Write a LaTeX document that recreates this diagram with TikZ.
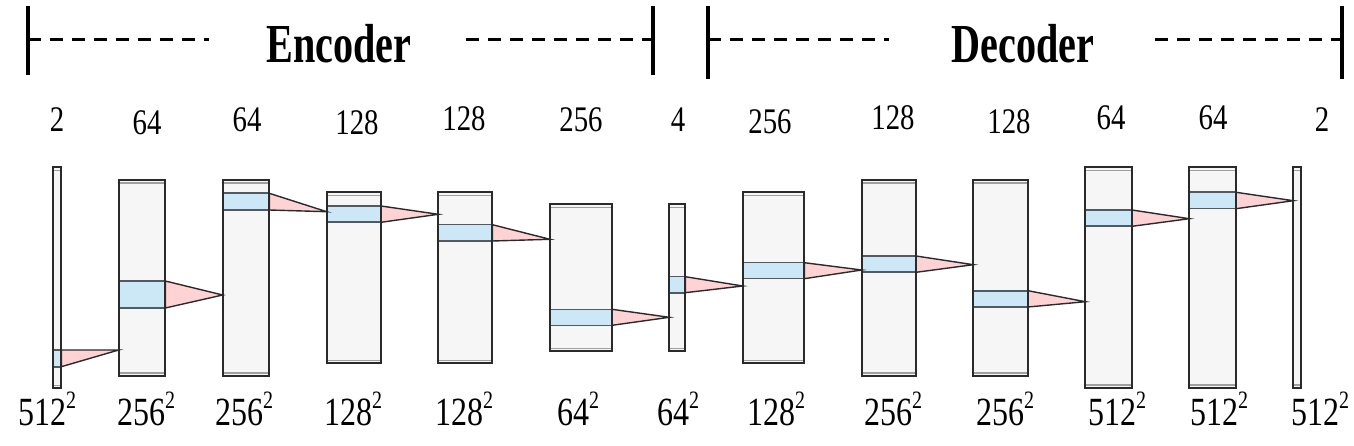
\documentclass[tikz,border=0pt]{standalone}
\usepackage{fontspec}
\setmainfont{Liberation Serif}
\usetikzlibrary{fit}
\definecolor{slabfill}{HTML}{F6F6F6}
\definecolor{edgecol}{HTML}{2A2A2A}
\definecolor{bandfill}{HTML}{CCE8F7}
\definecolor{bandedge}{HTML}{505A60}
\definecolor{conefill}{HTML}{FFD3D4}
\newcommand\topnum[1]{\fontsize{36}{38}\selectfont\scalebox{0.8}[1]{#1}}
\newcommand\botnum[1]{\fontsize{40}{42}\selectfont\scalebox{0.8}[1]{#1\raisebox{0.42em}{\fontsize{25}{25}\selectfont 2}}}
\newcommand\hdr[1]{\fontsize{55}{58}\selectfont\bfseries\scalebox{0.73}[1]{#1}}
\newcommand\mkslab[5]{%
  \node[slab, fit={(#2,#3)(#4,#5)}] (#1) {};%
  \draw[rim] ([yshift=-3pt]#1.north west) -- ([yshift=-3pt]#1.north east);%
  \draw[rim] ([yshift=3pt]#1.south west) -- ([yshift=3pt]#1.south east);}
\newcommand\mkband[4]{%
  \node[band, fit={(#2.west |- 0,#3)(#2.east |- 0,#4)}] (#1) {};}
\newcommand\mkcone[4]{%
  \coordinate (#1) at (#3.west |- 0,#4);%
  \draw[cone] (#2.north east) -- (#1) -- (#2.south east) -- cycle;}
\newcommand\reslab[1]{\draw[slabline] (#1.north west) rectangle (#1.south east);}
\begin{document}
\begin{tikzpicture}[x=1pt,y=-1pt,
  slab/.style={fill=slabfill, draw=edgecol, line width=1.8pt, inner sep=0pt, outer sep=0pt},
  rim/.style={draw=gray!75, line width=1.3pt},
  band/.style={fill=bandfill, draw=bandedge, line width=1.6pt, inner sep=0pt, outer sep=0pt},
  cone/.style={fill=conefill, draw=edgecol, line width=1.4pt, line join=miter},
  slabline/.style={draw=edgecol, line width=1.8pt},
  hbar/.style={line width=4pt, black},
  hdash/.style={line width=3pt, black, dash pattern=on 13pt off 9pt},
  lbl/.style={inner sep=0pt, outer sep=0pt, anchor=center}]
\useasboundingbox (0,0) rectangle (1354,446);

% header
\coordinate (e1t) at (27.5,6);   \coordinate (e1b) at (27.5,75);
\coordinate (e2t) at (653,6);    \coordinate (e2b) at (653,75);
\coordinate (d1t) at (708,6);    \coordinate (d1b) at (708,79);
\coordinate (d2t) at (1341.5,6); \coordinate (d2b) at (1341.5,79);
\draw[hbar] (e1t) -- (e1b);
\draw[hbar] (e2t) -- (e2b);
\draw[hbar] (d1t) -- (d1b);
\draw[hbar] (d2t) -- (d2b);
\node[lbl] (enc) at (339,44) {\hdr{Encoder}};
\node[lbl] (dec) at (1023,44) {\hdr{Decoder}};
\draw[hdash] (e1t |- 0,40) -- (209,40);
\draw[hdash] (466,40) -- (e2t |- 0,40);
\draw[hdash] (d1t |- 0,40) -- (889,40);
\draw[hdash] (1155,40) -- (d2t |- 0,40);

% slabs
\mkslab{s1}{53}{167.3}{61.3}{388.3}
\mkslab{s2}{118.7}{180}{165.3}{376}
\mkslab{s3}{222.7}{180}{269.3}{376}
\mkslab{s4}{326.7}{192.3}{381}{363.3}
\mkslab{s5}{438.3}{192.3}{492.3}{363.3}
\mkslab{s6}{550}{204.3}{612}{351.3}
\mkslab{s7}{669.3}{204.3}{685.3}{351.3}
\mkslab{s8}{742.7}{192.3}{804.3}{363.3}
\mkslab{s9}{861.7}{180}{916}{376}
\mkslab{s10}{973.3}{180}{1028}{376}
\mkslab{s11}{1085.3}{167.3}{1132}{388}
\mkslab{s12}{1189.3}{167.3}{1236}{388}
\mkslab{s13}{1293.3}{167.3}{1301.3}{388}

% bands
\mkband{b1}{s1}{350}{366.7}
\mkband{b2}{s2}{281}{308}
\mkband{b3}{s3}{193.3}{210}
\mkband{b4}{s4}{206}{222.3}
\mkband{b5}{s5}{224.7}{241}
\mkband{b6}{s6}{309.3}{325.3}
\mkband{b7}{s7}{276.7}{292.7}
\mkband{b8}{s8}{262.7}{278.7}
\mkband{b9}{s9}{256}{272.3}
\mkband{b10}{s10}{290.7}{307}
\mkband{b11}{s11}{210}{226.3}
\mkband{b12}{s12}{192.3}{208.7}

% cones
\mkcone{a1}{b1}{s2}{350}
\mkcone{a2}{b2}{s3}{295}
\mkcone{a3}{b3}{s4}{211.7}
\mkcone{a4}{b4}{s5}{214.3}
\mkcone{a5}{b5}{s6}{239.3}
\mkcone{a6}{b6}{s7}{317.3}
\mkcone{a7}{b7}{s8}{286}
\mkcone{a8}{b8}{s9}{270}
\mkcone{a9}{b9}{s10}{264.7}
\mkcone{a10}{b10}{s11}{301.7}
\mkcone{a11}{b11}{s12}{218.7}
\mkcone{a12}{b12}{s13}{200.7}

\reslab{s1}\reslab{s2}\reslab{s3}\reslab{s4}\reslab{s5}\reslab{s6}\reslab{s7}
\reslab{s8}\reslab{s9}\reslab{s10}\reslab{s11}\reslab{s12}\reslab{s13}

% channel labels
\node[lbl] (c1) at (57,120) {\topnum{2}};
\node[lbl] (c2) at (147,123) {\topnum{64}};
\node[lbl] (c3) at (247,120) {\topnum{64}};
\node[lbl] (c4) at (357,123) {\topnum{128}};
\node[lbl] (c5) at (464,119) {\topnum{128}};
\node[lbl] (c6) at (581,120) {\topnum{256}};
\node[lbl] (c7) at (678,120) {\topnum{4}};
\node[lbl] (c8) at (770,122) {\topnum{256}};
\node[lbl] (c9) at (893,118) {\topnum{128}};
\node[lbl] (c10) at (1009,122) {\topnum{128}};
\node[lbl] (c11) at (1111,118) {\topnum{64}};
\node[lbl] (c12) at (1213,118) {\topnum{64}};
\node[lbl] (c13) at (1322,120) {\topnum{2}};

% resolution labels
\node[lbl] (r1) at (47,409) {\botnum{512}};
\node[lbl] (r2) at (146,409) {\botnum{256}};
\node[lbl] (r3) at (244,409) {\botnum{256}};
\node[lbl] (r4) at (353,409) {\botnum{128}};
\node[lbl] (r5) at (464,409) {\botnum{128}};
\node[lbl] (r6) at (578,409) {\botnum{64}};
\node[lbl] (r7) at (678,409) {\botnum{64}};
\node[lbl] (r8) at (776,409) {\botnum{128}};
\node[lbl] (r9) at (893,409) {\botnum{256}};
\node[lbl] (r10) at (1005,409) {\botnum{256}};
\node[lbl] (r11) at (1117,409) {\botnum{512}};
\node[lbl] (r12) at (1219,409) {\botnum{512}};
\node[lbl] (r13) at (1320,409) {\botnum{512}};
\end{tikzpicture}
\end{document}
